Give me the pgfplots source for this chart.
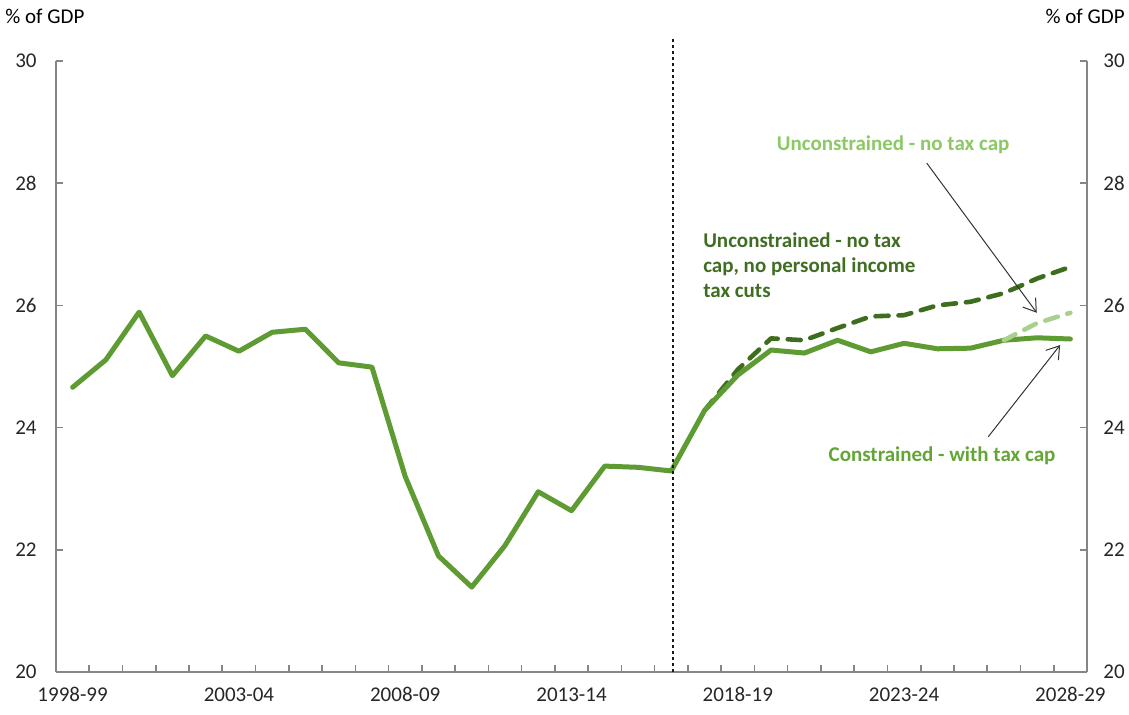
\documentclass[border=0pt]{standalone}
\usepackage{fontspec}
\setmainfont{Carlito}
\usepackage{pgfplots}
\pgfplotsset{compat=1.18}
\usetikzlibrary{arrows.meta}
\definecolor{solidG}{RGB}{94,155,50}
\definecolor{darkG}{RGB}{61,110,30}
\definecolor{lightG}{RGB}{169,209,142}
\definecolor{lightT}{RGB}{140,200,99}
\definecolor{darkT}{RGB}{63,110,35}
\definecolor{consT}{RGB}{100,165,55}
\definecolor{axisgray}{RGB}{134,134,134}
\begin{document}
\fontsize{10.5}{12.6}\selectfont
\begin{tikzpicture}
\path[use as bounding box] (-28pt,-21pt) rectangle (536.5pt,336pt);
\pgfplotsset{
  base/.style={
    width=515.5pt, height=305.5pt, scale only axis,
    xmin=-0.5, xmax=30.5, ymin=20, ymax=30,
    axis line style={axisgray, line width=0.8pt},
    tick style={axisgray, line width=0.8pt},
    tick align=inside,
    major tick length=3.5pt, minor tick length=3.5pt,
    ytick={20,22,...,30},
    /pgf/number format/assume math mode=true,
    tick label style={font=\fontsize{10.5}{12.6}\selectfont, text=black!85},
  }
}
\begin{axis}[base,
  axis x line*=bottom, axis y line*=left,
  xtick={0,5,...,30},
  xticklabels={1998-99,2003-04,2008-09,2013-14,2018-19,2023-24,2028-29},
  minor xtick={0.5,1.5,...,29.5},
  major x tick style={draw=none},
  xticklabel style={anchor=north, inner sep=0pt, yshift=-7.5pt},
  yticklabel style={anchor=east, inner sep=0pt, xshift=-9.5pt},
  clip=false,
]
\addplot[darkG, line width=2.3pt, line join=round, line cap=round, dash pattern=on 6.5pt off 5pt] coordinates {
(19,24.28) (20,24.95) (21,25.46) (22,25.43) (23,25.63) (24,25.82) (25,25.84)
(26,26.00) (27,26.06) (28,26.20) (29,26.44) (30,26.63)};
\addplot[solidG, line width=2.5pt, line join=round, line cap=round] coordinates {
(0,24.66) (1,25.11) (2,25.89) (3,24.85) (4,25.50) (5,25.25) (6,25.56) (7,25.61)
(8,25.06) (9,24.99) (10,23.20) (11,21.90) (12,21.39) (13,22.07) (14,22.95)
(15,22.64) (16,23.37) (17,23.35) (18,23.29) (19,24.28) (20,24.86) (21,25.27)
(22,25.22) (23,25.43) (24,25.24) (25,25.38) (26,25.29) (27,25.30) (28,25.43)
(29,25.47) (30,25.45)};
\addplot[lightG, line width=2.3pt, line join=round, line cap=round, dash pattern=on 6.5pt off 5pt] coordinates {
(28,25.43) (29,25.71) (30,25.88)};
\draw[black!90, line width=0.95pt, dash pattern=on 1.6pt off 1.4pt] (axis cs:18.05,20) -- (axis cs:18.05,30.38);
\node[font=\bfseries, text=lightT, inner sep=0pt] at (axis cs:24.67,28.63) {Unconstrained - no tax cap};
\node[font=\bfseries, text=darkT, inner sep=0pt, anchor=north west, align=left] at (axis cs:18.95,27.2)
  {Unconstrained - no tax\\cap, no personal income\\tax cuts};
\node[font=\bfseries, text=consT, inner sep=0pt] at (axis cs:26.14,23.54) {Constrained - with tax cap};
\draw[black!80, line width=0.5pt, -{Straight Barb[length=6pt,width=8pt]}] (axis cs:25.68,28.33) -- (axis cs:28.99,25.88);
\draw[black!80, line width=0.5pt, -{Straight Barb[length=6pt,width=8pt]}] (axis cs:27.53,23.85) -- (axis cs:29.69,25.35);
\end{axis}
\begin{axis}[base,
  axis x line=none, axis y line*=right,
  yticklabel style={anchor=west, inner sep=0pt, xshift=8pt},
]
\end{axis}
\node[anchor=west, inner sep=0pt] at (-25.5pt,328pt) {\% of GDP};
\node[anchor=east, inner sep=0pt] at (534.5pt,328pt) {\% of GDP};
\end{tikzpicture}
\end{document}
